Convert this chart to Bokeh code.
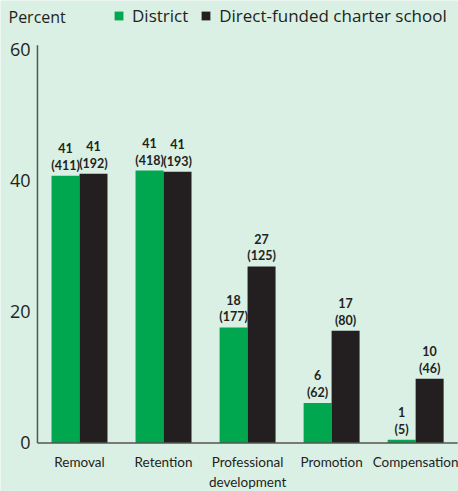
from bokeh.plotting import figure
from bokeh.models import ColumnDataSource, Range1d, Legend, LegendItem, Label
from bokeh.transform import dodge
from bokeh.core.properties import value
from bokeh.embed import file_html
from bokeh.resources import INLINE

categories = ["Removal", "Retention", "Professional development", "Promotion", "Compensation"]
tick_labels = ["Removal", "Retention", "Professional\ndevelopment", "Promotion", "Compensation"]
district = [40.7, 41.5, 17.6, 6.1, 0.5]
charter = [41.0, 41.3, 26.9, 17.1, 9.8]
district_pct = [41, 41, 18, 6, 1]
district_n = [411, 418, 177, 62, 5]
charter_pct = [41, 41, 27, 17, 10]
charter_n = [192, 193, 125, 80, 46]
y_ticks = [0, 20, 40, 60]

BG = "#daf0e4"
GREEN = "#00a74f"
BLACK = "#231f20"
TXT = "#231f20"
AXIS = "#555555"
NARROW = "Lato"
WIDE = "Open Sans"

n = len(categories)
src = ColumnDataSource(dict(
    xi=list(range(n)), cat=categories, district=district, charter=charter,
    zero=[0] * n, tick=tick_labels,
    dlab=[f"{a}\n({b})" for a, b in zip(district_pct, district_n)],
    clab=[f"{a}\n({b})" for a, b in zip(charter_pct, charter_n)],
))
ysrc = ColumnDataSource(dict(y=y_ticks, x=[-0.5] * len(y_ticks),
                             lab=[str(t) for t in y_ticks]))

p = figure(width=458, height=491, output_backend="svg", toolbar_location=None,
           x_range=Range1d(-0.94, n - 0.49), y_range=Range1d(-7.39, 67.4),
           min_border_left=0, min_border_right=0, min_border_top=0, min_border_bottom=0)
p.background_fill_color = BG
p.border_fill_color = BG
p.outline_line_color = None
p.grid.visible = False
p.axis.visible = False

w = 0.333
r1 = p.vbar(x=dodge("xi", -w / 2), top="district", width=w, source=src,
            fill_color=GREEN, line_color=None)
r2 = p.vbar(x=dodge("xi", w / 2), top="charter", width=w, source=src,
            fill_color=BLACK, line_color=None)

for xoff, ycol, lab in [(-w / 2, "district", "dlab"), (w / 2, "charter", "clab")]:
    p.text(x=dodge("xi", xoff), y=ycol, text=lab, source=src,
           text_align="center", text_baseline="bottom", y_offset=-3,
           text_font=value(NARROW), text_font_style="bold", text_font_size="12.5px",
           text_color=TXT, text_line_height=1.1)

# axis lines (category bands span -0.5 .. n-0.5)
p.segment(x0=[-0.5], y0=[0], x1=[n - 0.5], y1=[0], line_color=AXIS, line_width=1.5)
p.segment(x0=[-0.5], y0=[0], x1=[-0.5], y1=[max(y_ticks) + 0.6], line_color=AXIS,
          line_width=1.5)

# category labels
p.text(x="xi", y="zero", text="tick", source=src, text_align="center",
       text_baseline="top", y_offset=11, text_font=value(NARROW),
       text_font_size="13.5px", text_color=TXT, text_line_height=1.25)

# y tick labels
p.text(x="x", y="y", text="lab", source=ysrc, text_align="right",
       text_baseline="middle", x_offset=-7, text_font=value(WIDE),
       text_font_size="18px", text_color=TXT)

p.add_layout(Label(x=8, x_units="screen", y=64.96, text="Percent",
                   text_baseline="middle", text_font=WIDE,
                   text_font_size="16px", text_color=TXT))

legend = Legend(items=[LegendItem(label="District", renderers=[r1]),
                       LegendItem(label="Direct-funded charter school", renderers=[r2])],
                location=(113, 464), orientation="horizontal",
                background_fill_alpha=0, border_line_color=None,
                padding=0, margin=0, spacing=12, glyph_width=11, glyph_height=11,
                label_standoff=8, label_text_font=WIDE,
                label_text_font_size="17px", label_text_color=TXT)
p.add_layout(legend)

open("out.html", "w").write(file_html(p, INLINE))
